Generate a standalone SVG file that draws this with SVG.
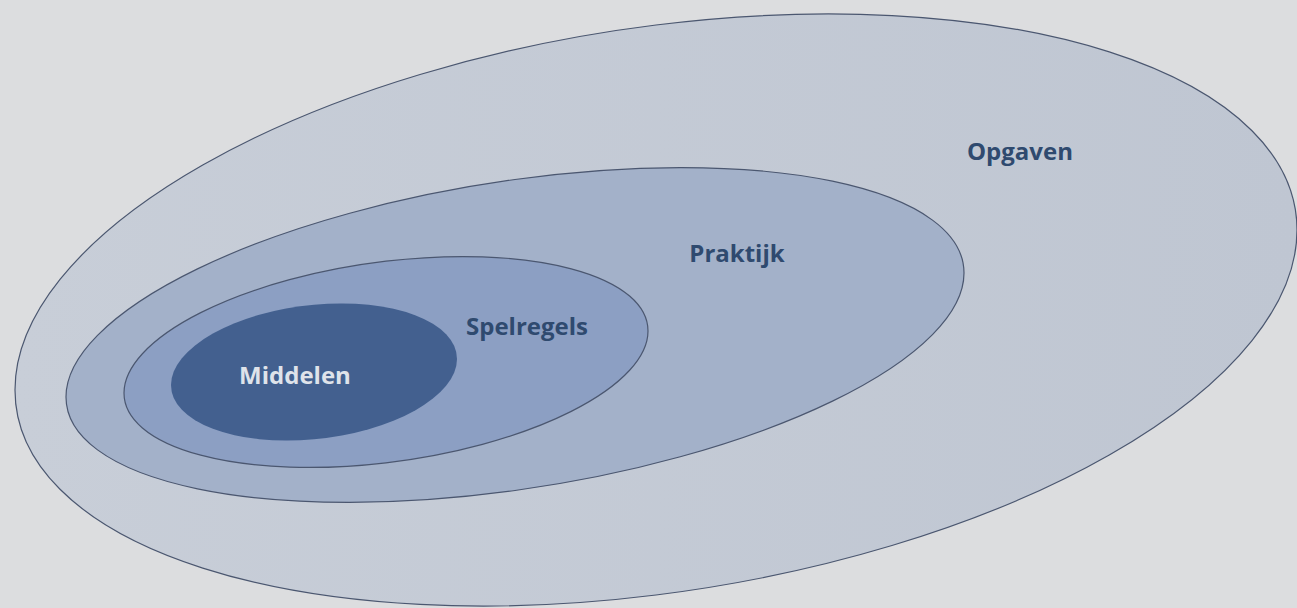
<svg xmlns="http://www.w3.org/2000/svg" width="1297" height="608" viewBox="0 0 1297 608">
  <style>
    .ring { stroke: #4b5770; stroke-width: 1.2; vector-effect: non-scaling-stroke; }
    .lbl { font-family: "Open Sans", "Liberation Sans", sans-serif; font-weight: 700; font-size: 24px; text-anchor: middle; fill: #2f4a6f; }
    .lbl-light { fill: #dfe3ea; }
  </style>
  <defs>
    <linearGradient id="gOuter" x1="0" y1="0" x2="1" y2="0">
      <stop offset="0" stop-color="#c8ced8"/>
      <stop offset="1" stop-color="#bfc6d2"/>
    </linearGradient>
  </defs>
  <rect width="1297" height="608" fill="#dcdddf"/>
  <g id="opgaven">
    <ellipse class="ring" cx="0" cy="0" rx="1" ry="1" fill="url(#gOuter)" transform="matrix(641,-80,0,285,656,310)"/>
    <text class="lbl" x="1020" y="160">Opgaven</text>
  </g>
  <g id="praktijk">
    <ellipse class="ring" cx="0" cy="0" rx="1" ry="1" fill="#a3b1c9" transform="matrix(449,-62,0,155.5,515,335)"/>
    <text class="lbl" x="737" y="262">Praktijk</text>
  </g>
  <g id="spelregels">
    <ellipse class="ring" cx="0" cy="0" rx="1" ry="1" fill="#8c9fc3" transform="matrix(262,-31,0,100.8,386,362)"/>
    <text class="lbl" x="527" y="335">Spelregels</text>
  </g>
  <g id="middelen">
    <ellipse cx="0" cy="0" rx="1" ry="1" fill="#43608f" transform="matrix(143,-13,0,67.3,314,372)"/>
    <text class="lbl lbl-light" x="295" y="384">Middelen</text>
  </g>
  <g id="connectors"/>
</svg>
